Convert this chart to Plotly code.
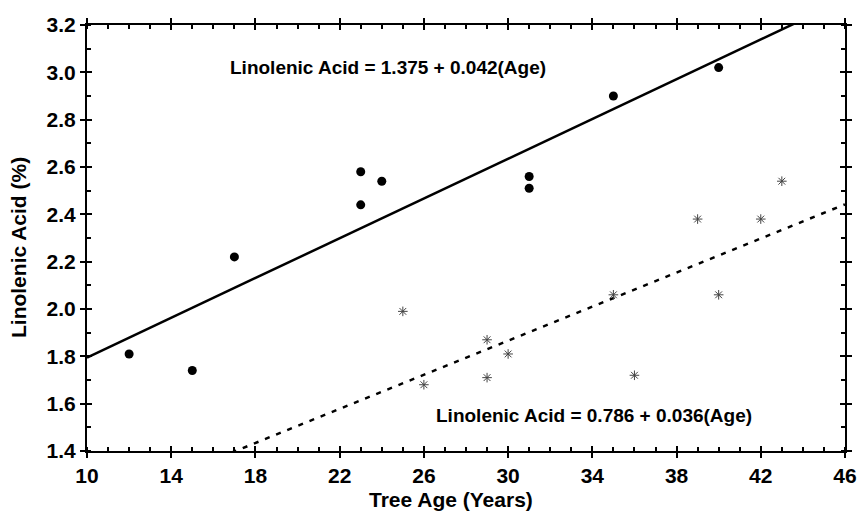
import plotly.graph_objects as go

# Group 1 (filled circles)
age_a = [12, 15, 17, 23, 23, 24, 31, 31, 35, 40]
lin_a = [1.81, 1.74, 2.22, 2.58, 2.44, 2.54, 2.56, 2.51, 2.90, 3.02]
# Group 2 (asterisks)
age_b = [25, 26, 29, 29, 30, 35, 36, 39, 40, 42, 43]
lin_b = [1.99, 1.68, 1.87, 1.71, 1.81, 2.06, 1.72, 2.38, 2.06, 2.38, 2.54]

# Regression equations
int_a, slope_a = 1.375, 0.042
int_b, slope_b = 0.786, 0.036
line_x = [10, 46]

eq_a = "Linolenic Acid = 1.375 + 0.042(Age)"
eq_b = "Linolenic Acid = 0.786 + 0.036(Age)"
x_title = "Tree Age (Years)"
y_title = "Linolenic Acid (%)"

x_ticks = list(range(10, 47, 4))
y_ticks = [1.4, 1.6, 1.8, 2.0, 2.2, 2.4, 2.6, 2.8, 3.0, 3.2]
x_range = [10, 46]
y_range = [1.4, 3.2]

FONT = "Liberation Sans, Arial, sans-serif"

fig = go.Figure()
fig.add_trace(go.Scatter(x=line_x, y=[int_a + slope_a * v for v in line_x], mode="lines",
                         line=dict(color="black", width=2.5), showlegend=False, hoverinfo="skip"))
fig.add_trace(go.Scatter(x=line_x, y=[int_b + slope_b * v for v in line_x], mode="lines",
                         line=dict(color="black", width=2.5, dash="5px,7px"), showlegend=False, hoverinfo="skip"))
fig.add_trace(go.Scatter(x=age_a, y=lin_a, mode="markers",
                         marker=dict(symbol="circle", size=9, color="black"), showlegend=False))
fig.add_trace(go.Scatter(x=age_b, y=lin_b, mode="markers",
                         marker=dict(symbol="asterisk-open", size=8, color="#444",
                                     line=dict(color="#444", width=1)), showlegend=False))
# empty trace on overlay axes (used only for inward halves of major ticks)
fig.add_trace(go.Scatter(x=[], y=[], xaxis="x2", yaxis="y2", showlegend=False, hoverinfo="skip"))

fig.add_annotation(x=24.3, y=3.02, text="<b>" + eq_a + "</b>", showarrow=False,
                   font=dict(family=FONT, size=19, color="black"))
fig.add_annotation(x=34.1, y=1.548, text="<b>" + eq_b + "</b>", showarrow=False,
                   font=dict(family=FONT, size=19, color="black"))
fig.add_annotation(xref="paper", yref="paper", x=0.480, y=-0.115, xanchor="center", yanchor="middle",
                   text="<b>" + x_title + "</b>",
                   showarrow=False, font=dict(family=FONT, size=21, color="black"))
fig.add_annotation(xref="paper", yref="paper", x=-0.091, y=0.4765, xanchor="center", yanchor="middle",
                   text="<b>" + y_title + "</b>",
                   textangle=-90, showarrow=False, font=dict(family=FONT, size=21, color="black"))

axis_common = dict(showgrid=False, zeroline=False, showline=True, linecolor="black", linewidth=2,
                   mirror="allticks", ticks="outside", ticklen=5, tickwidth=2, tickcolor="black",
                   automargin=False,
                   tickfont=dict(family=FONT, size=21, color="black"))

fig.update_layout(
    xaxis=dict(range=x_range, tickvals=x_ticks, ticktext=[f"<b>{v}</b>" for v in x_ticks],
               minor=dict(dtick=1, tick0=10, ticks="inside", ticklen=4, tickwidth=1.5, tickcolor="black"),
               **axis_common),
    yaxis=dict(range=y_range, tickvals=y_ticks, ticktext=[f"<b>{v:.1f}</b>" for v in y_ticks],
               minor=dict(dtick=0.1, tick0=1.4, ticks="inside", ticklen=4, tickwidth=1.5, tickcolor="black"),
               **axis_common),
    xaxis2=dict(range=x_range, overlaying="x", anchor="y2", tickvals=x_ticks, showticklabels=False,
                ticks="inside", ticklen=5, tickwidth=2, tickcolor="black", mirror="allticks",
                showline=False, showgrid=False, zeroline=False, automargin=False),
    yaxis2=dict(range=y_range, overlaying="y", anchor="x2", tickvals=y_ticks, showticklabels=False,
                ticks="inside", ticklen=5, tickwidth=2, tickcolor="black", mirror="allticks",
                showline=False, showgrid=False, zeroline=False, automargin=False),
    width=858, height=512, margin=dict(l=87, r=13, t=25, b=61),
    plot_bgcolor="white", paper_bgcolor="white")

fig.write_html("out.html", config={"displayModeBar": False},
               post_script="document.body.style.margin='0';document.body.style.overflow='hidden';")
